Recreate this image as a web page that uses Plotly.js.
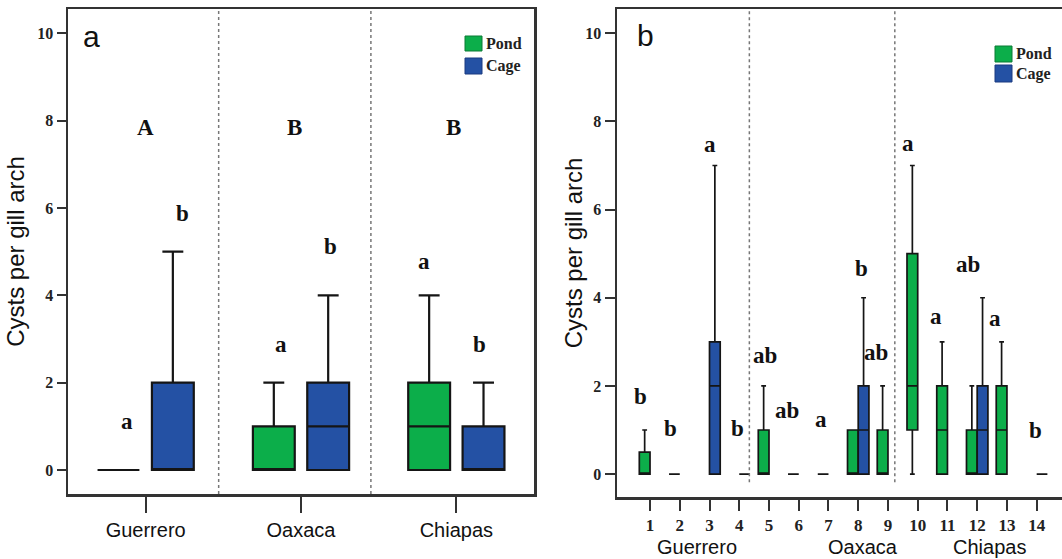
<!DOCTYPE html>
<html><head><meta charset="utf-8">
<script src="https://cdn.plot.ly/plotly-3.0.1.min.js"></script>
<style>
html,body{margin:0;padding:0;background:#fff;overflow:hidden;width:1062px;height:559px;}
#pa{position:absolute;left:0;top:0;width:560px;height:559px;}
#pb{position:absolute;left:560px;top:0;width:510px;height:559px;}
</style></head><body>
<div id="pa"></div><div id="pb"></div>
<script>
// ---------- Panel a data (by region) ----------
const regions = ['Guerrero', 'Oaxaca', 'Chiapas'];
const pondQ1A = [0, 0, 0];
const pondMedA = [0, 0, 1];
const pondQ3A = [0, 1, 2];
const pondLoA = [0, 0, 0];
const pondHiA = [0, 2, 4];
const cageQ1A = [0, 0, 0];
const cageMedA = [0, 1, 0];
const cageQ3A = [2, 2, 1];
const cageLoA = [0, 0, 0];
const cageHiA = [5, 4, 2];

// ---------- Panel b data (by site) ----------
const siteTicks = [1, 2, 3, 4, 5, 6, 7, 8, 9, 10, 11, 12, 13, 14];
const pondSites = [1, 2, 5, 6, 7, 8, 9, 10, 11, 12, 13];
const pondQ1B = [0, 0, 0, 0, 0, 0, 0, 1, 0, 0, 0];
const pondMedB = [0, 0, 0, 0, 0, 0, 0, 2, 1, 0, 1];
const pondQ3B = [0.5, 0, 1, 0, 0, 1, 1, 5, 2, 1, 2];
const pondLoB = [0, 0, 0, 0, 0, 0, 0, 0, 0, 0, 0];
const pondHiB = [1, 0, 2, 0, 0, 1, 2, 7, 3, 2, 3];
const cageSites = [3, 4, 8, 12, 14];
const cageQ1B = [0, 0, 0, 0, 0];
const cageMedB = [2, 0, 1, 1, 0];
const cageQ3B = [3, 0, 2, 2, 0];
const cageLoB = [0, 0, 0, 0, 0];
const cageHiB = [7, 0, 4, 4, 0];

// group letters
const lettersA = ['A', 'B', 'B', 'a', 'b', 'a', 'b', 'a', 'b'];
const lettersB = ['b', 'b', 'a', 'b', 'ab', 'ab', 'a', 'b', 'ab', 'a', 'a', 'ab', 'a', 'b'];
const stateNames = ['Guerrero', 'Oaxaca', 'Chiapas'];

// ---------- styles ----------
const pondColor = '#0cae4a';
const cageColor = '#2451a4';
const frameColor = '#333333';
const serif = 'Liberation Serif, Times New Roman, serif';
const sans = 'Liberation Sans, Arial, sans-serif';

// letter placements (annotation label positions)
const letterPosA = [[0, 7.85], [0.96, 7.85], [1.98, 7.85], [-0.12, 1.12], [0.235, 5.87], [0.87, 2.87], [1.19, 5.13], [1.79, 4.77], [2.15, 2.87]];
const letterPosB = [[0.69, 1.76], [1.70, 1.03], [3.02, 7.47], [3.93, 1.03], [4.87, 2.69], [5.62, 1.45], [6.74, 1.23], [8.12, 4.66], [8.60, 2.75], [9.68, 7.49], [10.61, 3.58], [11.68, 4.76], [12.60, 3.54], [13.97, 0.99]];

function boxTrace(name, x, q1, med, q3, lo, hi, color, lw, ww) {
  return {
    type: 'box', name: name, x: x, q1: q1, median: med, q3: q3,
    lowerfence: lo, upperfence: hi, boxpoints: false,
    fillcolor: color, line: {color: '#151515', width: lw},
    whiskerwidth: ww, showlegend: false, hoverinfo: 'skip'
  };
}

function legendItems(px2x, px2y, sqX, rows) {
  const shapes = [], anns = [];
  rows.forEach(r => {
    shapes.push({type: 'rect', xref: 'paper', yref: 'paper',
      x0: px2x(sqX[0]), x1: px2x(sqX[1]), y0: px2y(r.y0), y1: px2y(r.y1),
      fillcolor: r.color, line: {color: r.edge, width: 1}});
    anns.push({xref: 'paper', yref: 'paper', x: px2x(sqX[1] + 2), y: px2y((r.y0 + r.y1) / 2),
      xanchor: 'left', yanchor: 'middle', showarrow: false, text: r.label,
      font: {family: serif, size: 16, color: '#222', weight: 'bold'}});
  });
  return {shapes, anns};
}

// ---------- Panel a ----------
(function () {
  const W = 560, H = 559, L = 68, R = 26, T = 9, B = 65;
  const pw = W - L - R, ph = H - T - B;
  const px2x = p => (p - L) / pw;
  const px2y = p => (H - B - p) / ph;
  const traces = [
    boxTrace('Pond', regions, pondQ1A, pondMedA, pondQ3A, pondLoA, pondHiA, pondColor, 2.2, 0.5),
    boxTrace('Cage', regions, cageQ1A, cageMedA, cageQ3A, cageLoA, cageHiA, cageColor, 2.2, 0.5)
  ];
  const lg = legendItems(px2x, px2y, [465, 482], [
    {y0: 36, y1: 51, color: pondColor, edge: '#0a7a35', label: 'Pond'},
    {y0: 58, y1: 74, color: cageColor, edge: '#1a3a80', label: 'Cage'}
  ]);
  const anns = lettersA.map((t, i) => ({x: letterPosA[i][0], y: letterPosA[i][1], xref: 'x', yref: 'y',
    text: t, showarrow: false, xanchor: 'center', yanchor: 'middle',
    font: {family: serif, size: 23, color: '#111', weight: 'bold'}}));
  anns.push({xref: 'paper', yref: 'paper', x: px2x(91), y: px2y(36), text: 'a', showarrow: false,
    xanchor: 'center', yanchor: 'middle', font: {family: sans, size: 30, color: '#111'}});
  const seps = [0.47, 1.45].map(v => ({type: 'line', xref: 'x', yref: 'paper', x0: v, x1: v, y0: 0, y1: 1,
    line: {color: '#777', width: 1.5, dash: 'dot'}}));
  const layout = {
    width: W, height: H, margin: {l: L, r: R, t: T, b: B},
    paper_bgcolor: '#fff', plot_bgcolor: '#fff',
    boxmode: 'group', boxgap: 0.3, boxgroupgap: 0.23,
    xaxis: {type: 'category', range: [-0.5, 2.5], showgrid: false, zeroline: false,
      showline: true, mirror: true, linecolor: frameColor, linewidth: 2.5,
      ticks: 'outside', ticklen: 16, tickwidth: 2, tickcolor: frameColor,
      tickfont: {family: sans, size: 20, color: '#111'}},
    yaxis: {range: [-0.55, 10.56], tickvals: [0, 2, 4, 6, 8, 10], showgrid: false, zeroline: false,
      showline: true, mirror: true, linecolor: frameColor, linewidth: 2.5,
      ticks: 'outside', ticklen: 9, tickwidth: 2, tickcolor: frameColor,
      tickfont: {family: serif, size: 16, color: '#222', weight: 'bold'},
      title: {text: 'Cysts per gill arch', standoff: 6, font: {family: sans, size: 24, color: '#111'}}},
    shapes: seps.concat(lg.shapes),
    annotations: anns.concat(lg.anns)
  };
  Plotly.newPlot('pa', traces, layout, {staticPlot: true});
})();

// ---------- Panel b ----------
(function () {
  const W = 510, H = 559, L = 57, R = 0, T = 9, B = 62;
  const pw = W - L - R, ph = H - T - B;
  const off = 560;
  const px2x = p => (p - off - L) / pw;
  const px2y = p => (H - B - p) / ph;
  const traces = [
    boxTrace('Pond', pondSites, pondQ1B, pondMedB, pondQ3B, pondLoB, pondHiB, pondColor, 1.7, 0.45),
    boxTrace('Cage', cageSites, cageQ1B, cageMedB, cageQ3B, cageLoB, cageHiB, cageColor, 1.7, 0.45)
  ];
  const lg = legendItems(px2x, px2y, [995, 1012], [
    {y0: 46, y1: 62, color: pondColor, edge: '#0a7a35', label: 'Pond'},
    {y0: 65, y1: 82, color: cageColor, edge: '#1a3a80', label: 'Cage'}
  ]);
  const anns = lettersB.map((t, i) => ({x: letterPosB[i][0], y: letterPosB[i][1], xref: 'x', yref: 'y',
    text: t, showarrow: false, xanchor: 'center', yanchor: 'middle',
    font: {family: serif, size: 23, color: '#111', weight: 'bold'}}));
  const stateX = [2.58, 8.15, 12.4];
  stateNames.forEach((s, i) => anns.push({x: stateX[i], xref: 'x', yref: 'paper', y: px2y(547),
    text: s, showarrow: false, xanchor: 'center', yanchor: 'middle',
    font: {family: sans, size: 20, color: '#111'}}));
  anns.push({xref: 'paper', yref: 'paper', x: px2x(645), y: px2y(36), text: 'b', showarrow: false,
    xanchor: 'center', yanchor: 'middle', font: {family: sans, size: 30, color: '#111'}});
  const seps = [4.34, 9.23].map(v => ({type: 'line', xref: 'x', yref: 'paper', x0: v, x1: v, y0: 0.03, y1: 1,
    line: {color: '#777', width: 1.5, dash: 'dot'}}));
  const layout = {
    width: W, height: H, margin: {l: L, r: R, t: T, b: B},
    paper_bgcolor: '#fff', plot_bgcolor: '#fff',
    boxmode: 'group', boxgap: 0.28, boxgroupgap: 0,
    xaxis: {range: [-0.11, 15.12], tickvals: siteTicks, showgrid: false, zeroline: false,
      showline: true, mirror: true, linecolor: frameColor, linewidth: 2.5,
      ticks: 'outside', ticklen: 11, tickwidth: 2, tickcolor: frameColor,
      tickfont: {family: serif, size: 17, color: '#222', weight: 'bold'}},
    yaxis: {range: [-0.52, 10.55], tickvals: [0, 2, 4, 6, 8, 10], showgrid: false, zeroline: false,
      showline: true, mirror: true, linecolor: frameColor, linewidth: 2.5,
      ticks: 'outside', ticklen: 10, tickwidth: 2, tickcolor: frameColor,
      tickfont: {family: serif, size: 16, color: '#222', weight: 'bold'},
      title: {text: 'Cysts per gill arch', standoff: 5, font: {family: sans, size: 24, color: '#111'}}},
    shapes: seps.concat(lg.shapes),
    annotations: anns.concat(lg.anns)
  };
  Plotly.newPlot('pb', traces, layout, {staticPlot: true});
})();
</script></body></html>
